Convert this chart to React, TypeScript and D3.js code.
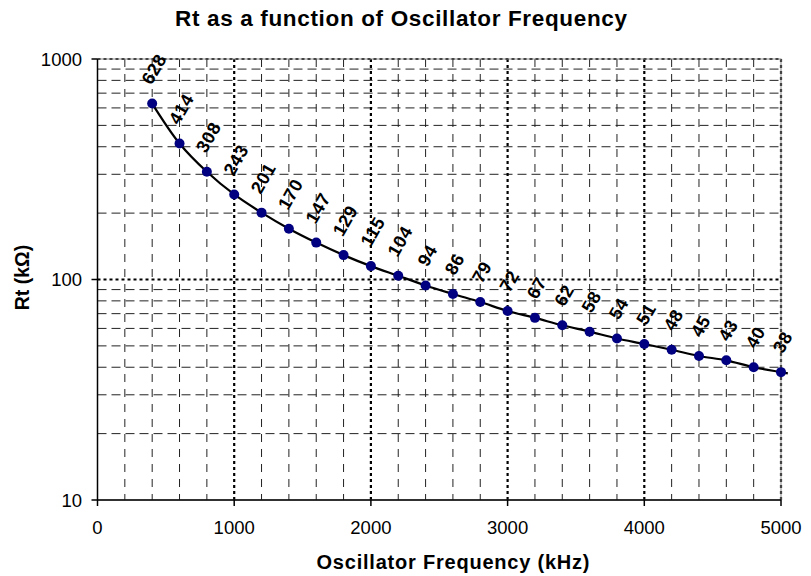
import React from "react";
import * as d3 from "d3";

const frequencies = [400, 600, 800, 1000, 1200, 1400, 1600, 1800, 2000, 2200, 2400, 2600, 2800, 3000, 3200, 3400, 3600, 3800, 4000, 4200, 4400, 4600, 4800, 5000];
const rtValues = [628, 414, 308, 243, 201, 170, 147, 129, 115, 104, 94, 86, 79, 72, 67, 62, 58, 54, 51, 48, 45, 43, 40, 38];
const xTickValues = [0, 1000, 2000, 3000, 4000, 5000];
const yTickValues = [10, 100, 1000];
const yMinorValues = [20, 30, 40, 50, 60, 70, 80, 90, 200, 300, 400, 500, 600, 700, 800, 900];
const xMinorValues = d3.range(200, 5000, 200).filter((v) => v % 1000 !== 0);

const W = 811;
const H = 576;
const L = 97.5, R = 781, T = 59, B = 500;
const FONT = "'Liberation Sans', Arial, sans-serif";

export default function App() {
  const x = d3.scaleLinear().domain([0, 5000]).range([L, R]);
  const y = d3.scaleLog().domain([10, 1000]).range([B, T]);

  const pts: [number, number][] = frequencies.map((f, i) => [x(f), y(rtValues[i])]);
  const n = rtValues.length;
  const ratio = rtValues[n - 1] / rtValues[n - 2];
  const extF = frequencies[n - 1] + 50;
  const extV = rtValues[n - 1] * Math.pow(ratio, 50 / 200);
  const linePts: [number, number][] = [...pts, [x(extF), y(extV)]];
  const line = d3.line().curve(d3.curveCatmullRom.alpha(0.5))(linePts) || "";

  const angle = 60;
  const rad = (angle * Math.PI) / 180;
  const lfs = 18;
  const lsp = 0.5;

  return (
    <svg width={W} height={H} style={{ position: "absolute", left: 0, top: 0, background: "#fff" }} fontFamily={FONT}>
      <rect x={0} y={0} width={W} height={H} fill="#fff" />
      {yMinorValues.map((v) => (
        <line key={"ym" + v} x1={L} x2={R} y1={y(v)} y2={y(v)} stroke="#222" strokeWidth={1} strokeDasharray="9,5" />
      ))}
      {xMinorValues.map((v) => (
        <line key={"xm" + v} x1={x(v)} x2={x(v)} y1={T} y2={B} stroke="#222" strokeWidth={1} strokeDasharray="8,7" />
      ))}
      {yTickValues.filter((v) => v !== 10).map((v) => (
        <line key={"yM" + v} x1={L} x2={R} y1={y(v)} y2={y(v)} stroke="#000" strokeWidth={2.2} strokeDasharray="3,3" />
      ))}
      {xTickValues.filter((v) => v !== 0).map((v) => (
        <line key={"xM" + v} x1={x(v)} x2={x(v)} y1={T} y2={B} stroke="#000" strokeWidth={2.2} strokeDasharray="3,3" />
      ))}
      <rect x={L} y={T} width={R - L} height={B - T} fill="none" stroke="#888" strokeWidth={1} />
      <line x1={L} x2={L} y1={T} y2={B} stroke="#000" strokeWidth={1.5} />
      <line x1={L} x2={R} y1={B} y2={B} stroke="#000" strokeWidth={1.5} />
      {yTickValues.map((v) => (
        <g key={"yt" + v}>
          <line x1={L - 6} x2={L} y1={y(v)} y2={y(v)} stroke="#000" strokeWidth={1.5} />
          <text x={82} y={y(v)} dy="0.36em" textAnchor="end" fontSize={18.5} fill="#000">{v}</text>
        </g>
      ))}
      {xTickValues.map((v) => (
        <g key={"xt" + v}>
          <line x1={x(v)} x2={x(v)} y1={B} y2={B + 6} stroke="#000" strokeWidth={1.5} />
          <text x={x(v)} y={534} textAnchor="middle" fontSize={18.5} fill="#000">{v}</text>
        </g>
      ))}
      <path d={line} fill="none" stroke="#000" strokeWidth={2.2} />
      {pts.map(([px, py], i) => (
        <circle key={"p" + i} cx={px} cy={py} r={5} fill="#000080" />
      ))}
      {pts.map(([px, py], i) => {
        const s = String(rtValues[i]);
        const w = s.length * (0.556 * lfs + lsp);
        const h = lfs * 1.1;
        const boxH = w * Math.sin(rad) + h * Math.cos(rad);
        const cx = px + 1.5;
        const cy = py - 16 - boxH / 2;
        return (
          <text key={"l" + i} transform={`translate(${cx},${cy}) rotate(${-angle})`} textAnchor="middle" dy="0.36em"
            fontSize={lfs} fontWeight="bold" letterSpacing={lsp} fill="#000">{s}</text>
        );
      })}
      <text x={401} y={26} textAnchor="middle" fontSize={22.5} fontWeight="bold" textLength={452} lengthAdjust="spacing">Rt as a function of Oscillator Frequency</text>
      <text x={453} y={569} textAnchor="middle" fontSize={20} fontWeight="bold" textLength={273} lengthAdjust="spacing">Oscillator Frequency (kHz)</text>
      <text transform="translate(29,277.5) rotate(-90)" textAnchor="middle" fontSize={19.5} fontWeight="bold">Rt (kΩ)</text>
    </svg>
  );
}
